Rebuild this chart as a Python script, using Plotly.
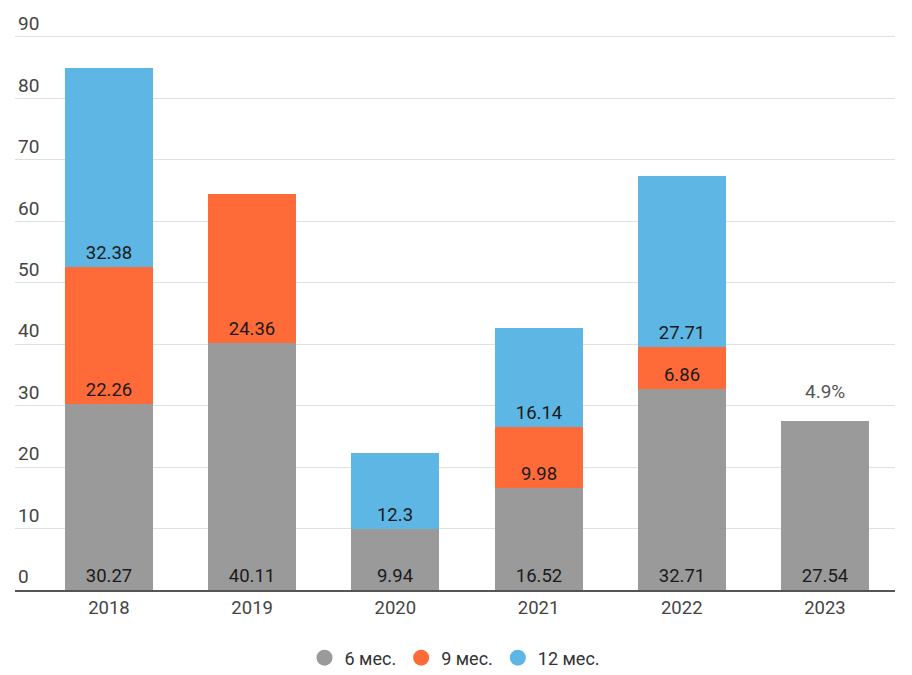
import plotly.graph_objects as go

years = ["2018", "2019", "2020", "2021", "2022", "2023"]
m6 = [30.27, 40.11, 9.94, 16.52, 32.71, 27.54]
m9 = [22.26, 24.36, None, 9.98, 6.86, None]
m12 = [32.38, None, 12.3, 16.14, 27.71, None]
names = ["6 мес.", "9 мес.", "12 мес."]
colors = ["#9a9a9a", "#ff6a39", "#5eb6e4"]
note_text = "4.9%"
note_year = "2023"
yticks = [0, 10, 20, 30, 40, 50, 60, 70, 80, 90]

xi = list(range(len(years)))
fig = go.Figure()
for vals, name, col in zip([m6, m9, m12], names, colors):
    fig.add_trace(go.Bar(
        x=xi, y=vals, name=name, marker=dict(color=col, line=dict(width=0)),
        width=0.615,
        text=[("" if v is None else f"{v:g}") for v in vals],
        textposition="inside", insidetextanchor="start",
        textfont=dict(family="Roboto", size=18.5, color="#1a1a1a"),
        textangle=0, constraintext="none", showlegend=False,
    ))
for name, col in zip(names, colors):
    fig.add_trace(go.Scatter(
        x=[None], y=[None], mode="markers", name=name,
        marker=dict(symbol="circle", size=17, color=col),
    ))

tot = [sum(v or 0 for v in t) for t in zip(m6, m9, m12)]
k = years.index(note_year)
fig.add_annotation(x=k, y=tot[k], text=note_text, showarrow=False, yanchor="bottom",
                   yshift=16, font=dict(family="Roboto", size=19, color="#555555"))

ppu = (590 - 37) / 90.0
ymax = 95
fig.update_layout(
    width=912, height=675, barmode="stack", bargap=0,
    margin=dict(l=15, r=17, t=590 - ymax * ppu, b=85),
    plot_bgcolor="white", paper_bgcolor="white",
    font=dict(family="Roboto", color="#444444"),
    legend=dict(orientation="h", x=0.5, xanchor="center", yref="container",
                y=1 - 658 / 675, yanchor="middle", traceorder="normal",
                font=dict(family="Roboto", size=18, color="#333333"),
                itemwidth=30, tracegroupgap=0),
    xaxis=dict(tickmode="array", tickvals=xi, ticktext=years,
               range=[-0.656, 5.489], showgrid=False, showline=True,
               linecolor="#555555", linewidth=2, ticks="",
               tickfont=dict(family="Roboto", size=18.5, color="#444444")),
    yaxis=dict(range=[0, ymax], tickvals=yticks, showgrid=True, gridcolor="#e0e0e0",
               gridwidth=1, zeroline=False, ticklabelposition="inside top",
               tickfont=dict(family="Roboto", size=19, color="#444444")),
)
fig.write_html("out.html")
